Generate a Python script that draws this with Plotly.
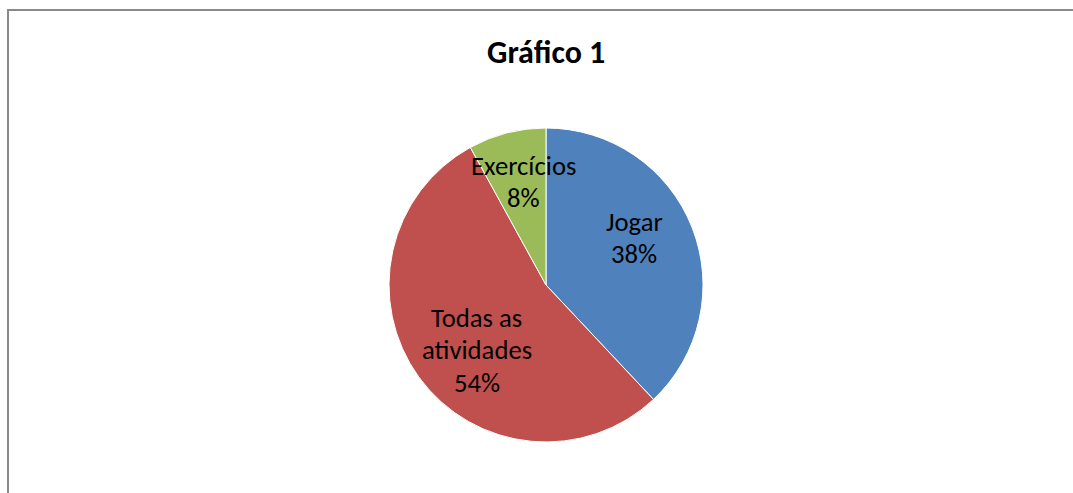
import math
import plotly.graph_objects as go

# Data
categories = ["Jogar", "Todas as atividades", "Exercícios"]
values = [38, 54, 8]
label_lines = [["Jogar"], ["Todas as", "atividades"], ["Exercícios"]]
colors = ["#4F81BD", "#C0504D", "#9BBB59"]
title_text = "Gráfico 1"

W, H = 1073, 493
CX, CY, R = 546, 285, 157  # pie centre and radius in px (layout)
LINE_H = 32.5

FONT = "Carlito, Calibri, Lato, sans-serif"

fig = go.Figure()
fig.add_trace(go.Pie(
    labels=categories,
    values=values,
    sort=False,
    direction="clockwise",
    rotation=0,
    marker=dict(colors=colors, line=dict(color="white", width=1)),
    textinfo="none",
    hoverinfo="label+percent",
    showlegend=False,
    domain=dict(x=[(CX - R) / W, (CX + R) / W], y=[(H - CY - R) / H, (H - CY + R) / H]),
))

# Data labels positioned from slice mid-angles
label_r = [0.64, 0.61, 0.67]
label_off = [(-5, -10), (8, 9), (4, -1)]
total = sum(values)
cum = 0
annotations = []
for i, v in enumerate(values):
    mid = (cum + v / 2) / total * 2 * math.pi
    cum += v
    px = CX + label_r[i] * R * math.sin(mid) + label_off[i][0]
    py = CY - label_r[i] * R * math.cos(mid) + label_off[i][1]
    pct = round(v / total * 100)
    lines = label_lines[i] + [f"{pct}%"]
    n = len(lines)
    for k, line in enumerate(lines):
        ly = py + (k - (n - 1) / 2) * LINE_H
        annotations.append(dict(
            x=px / W, y=1 - ly / H, xref="paper", yref="paper",
            text=line, showarrow=False,
            font=dict(family=FONT, size=26.7, color="#000000"),
            align="center", xanchor="center", yanchor="middle",
        ))

annotations.append(dict(
    x=546 / W, y=1 - 52 / H, xref="paper", yref="paper",
    text=f"<b>{title_text}</b>", showarrow=False,
    font=dict(family=FONT, size=32, color="#000000"),
    xanchor="center", yanchor="middle",
))

border = "#898989"
shapes = [
    dict(type="line", xref="paper", yref="paper", x0=7 / W, x1=1.0, y0=1 - 10 / H, y1=1 - 10 / H,
         line=dict(color=border, width=2)),
    dict(type="line", xref="paper", yref="paper", x0=8 / W, x1=8 / W, y0=0, y1=1 - 9 / H,
         line=dict(color=border, width=2)),
]

fig.update_layout(
    width=W, height=H,
    margin=dict(l=0, r=0, t=0, b=0),
    paper_bgcolor="white", plot_bgcolor="white",
    annotations=annotations, shapes=shapes,
)

fig.write_html("out.html", config={"displayModeBar": False},
               post_script="document.body.style.margin='0';document.body.style.overflow='hidden';")
